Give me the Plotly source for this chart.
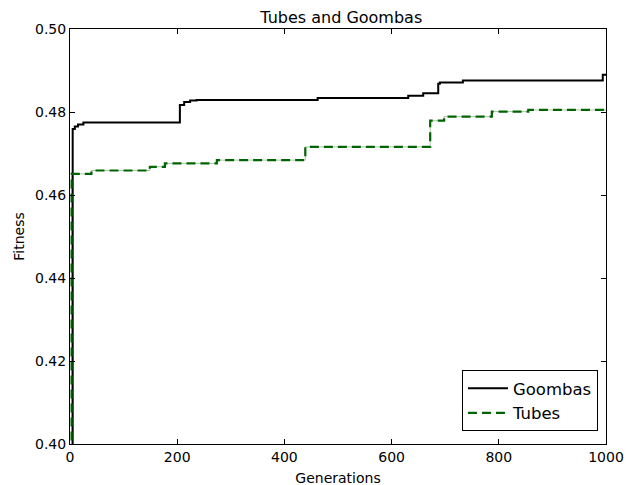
import plotly.graph_objects as go

# Data (step functions: value holds until the next generation)
goombas_gen = [0, 5, 9, 15, 25, 205, 213, 224, 236, 462, 631, 659, 687, 690, 733, 994, 1000]
goombas_fit = [0.30, 0.4759, 0.4765, 0.4770, 0.4775, 0.4817, 0.4824, 0.4828, 0.4829,
               0.4834, 0.4839, 0.4845, 0.4868, 0.4871, 0.4876, 0.4890, 0.4890]

tubes_gen = [0, 3, 40, 149, 177, 274, 439, 672, 698, 787, 855, 1000]
tubes_fit = [0.30, 0.4651, 0.4659, 0.4668, 0.4676, 0.4684, 0.4716, 0.4779, 0.4789,
             0.4801, 0.4805, 0.4804]

x_ticks = [0, 200, 400, 600, 800, 1000]
y_ticks = [0.40, 0.42, 0.44, 0.46, 0.48, 0.50]

FONT = "DejaVu Sans"
GREEN = "#006400"

fig = go.Figure()
fig.add_trace(go.Scatter(
    x=goombas_gen, y=goombas_fit, mode="lines", name="Goombas",
    line=dict(color="black", width=2, shape="hv"),
))
fig.add_trace(go.Scatter(
    x=tubes_gen, y=tubes_fit, mode="lines", name="Tubes_faint", showlegend=False,
    line=dict(color="rgba(0,100,0,0.35)", width=1, shape="hv"), hoverinfo="skip",
))
fig.add_trace(go.Scatter(
    x=tubes_gen, y=tubes_fit, mode="lines", name="Tubes",
    line=dict(color=GREEN, width=2.2, shape="hv", dash="9px,5px"),
))

axis_common = dict(
    showline=True, linecolor="black", linewidth=1, mirror="ticks",
    ticks="inside", ticklen=5, tickwidth=1, tickcolor="black",
    showgrid=False, zeroline=False,
    tickfont=dict(family=FONT, size=14, color="black"),
)

fig.update_xaxes(range=[0, 1000], tickvals=x_ticks, ticktext=[str(v) for v in x_ticks],
                 title=dict(text="Generations", font=dict(family=FONT, size=14, color="black"), standoff=9),
                 **axis_common)
fig.update_yaxes(range=[0.40, 0.50], tickvals=y_ticks, ticktext=[f"{v:.2f}" for v in y_ticks],
                 title=dict(text="Fitness", font=dict(family=FONT, size=14, color="black"), standoff=7),
                 **axis_common)

fig.update_layout(
    width=636, height=485,
    margin=dict(l=62, r=38, t=21, b=49, autoexpand=False),
    paper_bgcolor="white", plot_bgcolor="white",
    title=dict(text="Tubes and Goombas", x=0.524, xanchor="center", y=0.981, yanchor="middle",
               font=dict(family=FONT, size=16, color="black")),
    legend=dict(x=0.985, y=0.031, xanchor="right", yanchor="bottom",
                bgcolor="white", bordercolor="black", borderwidth=1,
                font=dict(family=FONT, size=16.5, color="black"),
                itemwidth=40, tracegroupgap=0),
    showlegend=True,
)

fig.write_html("out.html")
